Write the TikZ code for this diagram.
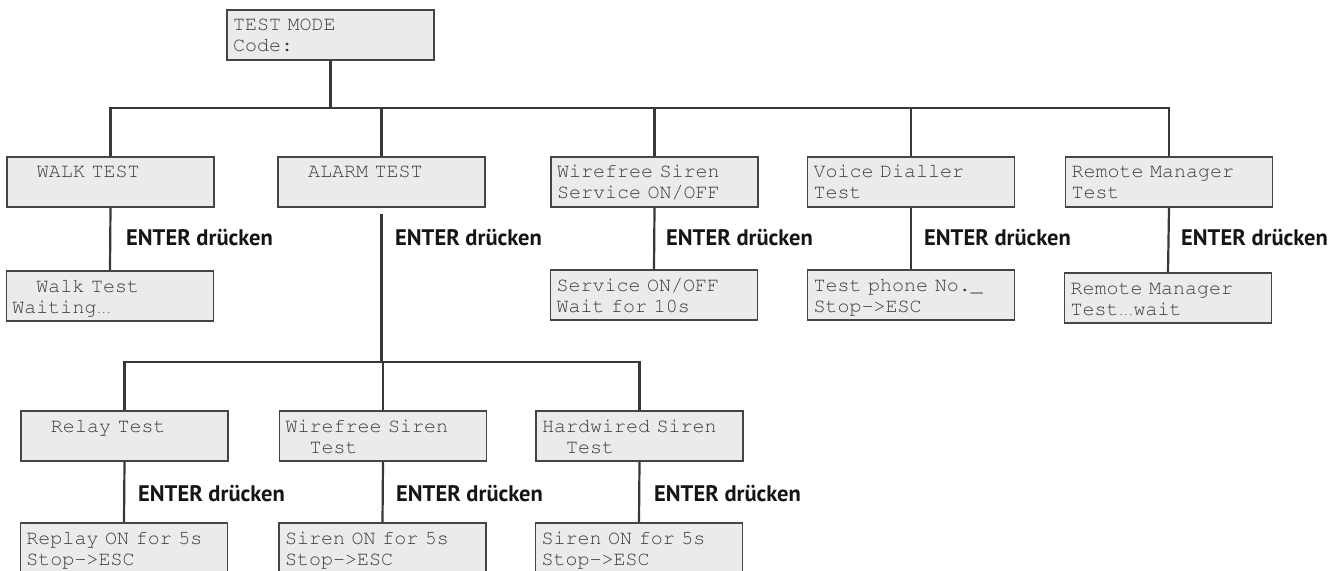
\documentclass[tikz,border=0pt]{standalone}
\usepackage[T1,TU]{fontenc}
\usepackage{fontspec}
\newcommand\lcdfont{\fontencoding{T1}\fontfamily{pcr}\selectfont}
\newfontfamily\enterfont{PT Sans}
\definecolor{boxfill}{HTML}{EBEBEB}
\definecolor{boxdraw}{HTML}{454545}
\definecolor{conncol}{HTML}{383838}
\definecolor{lcdtext}{HTML}{3C3C3C}
\definecolor{entertext}{HTML}{151515}
\newcommand\lcdlines[2]{\rule{0pt}{19.3bp}#1\strut\\#2\strut}
\newcommand\ind{\phantom{xx}}
\newcommand\lcdell{\makebox[15bp][l]{\fontsize{8.3bp}{8.3bp}\selectfont...}}
\tikzset{
  lcd/.style={draw=boxdraw, line width=1.6bp, fill=boxfill,
    minimum width=207bp, minimum height=50bp, text width=195bp,
    inner xsep=6bp, inner ysep=0pt, align=left,
    font=\lcdfont\fontsize{20bp}{21bp}\selectfont, text=lcdtext},
  enterlbl/.style={anchor=west, inner sep=0pt,
    font=\enterfont\bfseries\fontsize{22.5bp}{26bp}\selectfont, text=entertext},
  conn/.style={draw=conncol, line width=2.2bp},
}
\begin{document}
\begin{tikzpicture}[x=1bp, y=-1bp]
\useasboundingbox (0,0) rectangle (1343,571);
% level 0
\node[lcd] (top) at (330.5,35) {\lcdlines{TEST MODE}{Code:}};
% level 1
\node[lcd] (walk)   at (110.5,182) {\lcdlines{\ind WALK TEST}{}};
\node[lcd] (alarm)  at (381.5,182) {\lcdlines{\ind ALARM TEST}{}};
\node[lcd] (wss)    at (654.5,182) {\lcdlines{Wirefree Siren}{Service ON/OFF}};
\node[lcd] (voice)  at (911,182)   {\lcdlines{Voice Dialler}{Test}};
\node[lcd] (remote) at (1169,182)  {\lcdlines{Remote Manager}{Test}};
% level 1 results
\node[lcd] (walkL)   at (110,296)  {\lcdlines{\ind Walk Test}{Waiting\lcdell}};
\node[lcd] (wssL)    at (654,295)  {\lcdlines{Service ON/OFF}{Wait for 10s}};
\node[lcd] (voiceL)  at (911,295)  {\lcdlines{Test phone No.\_}{Stop->ESC}};
\node[lcd] (remoteL) at (1168,298) {\lcdlines{Remote Manager}{Test\lcdell wait}};
% level 2
\node[lcd] (relay) at (124.5,436) {\lcdlines{\ind Relay Test}{}};
\node[lcd] (wst)   at (383,436)   {\lcdlines{Wirefree Siren}{\ind Test}};
\node[lcd] (hws)   at (639.5,436) {\lcdlines{Hardwired Siren}{\ind Test}};
% level 2 results
\node[lcd] (relayL) at (124,548)   {\lcdlines{Replay ON for 5s}{Stop->ESC}};
\node[lcd] (wstL)   at (382.5,548) {\lcdlines{Siren ON for 5s}{Stop->ESC}};
\node[lcd] (hwsL)   at (639,548)   {\lcdlines{Siren ON for 5s}{Stop->ESC}};
% bus coordinates
\coordinate (bus1) at (0,108);
\coordinate (bus2) at (0,362);
% connectors level 0 -> 1
\draw[conn] (walk.north) |- (remote.north |- bus1) -- (remote.north);
\draw[conn] (top.south) -- (top.south |- bus1);
\draw[conn] (alarm.north) -- (alarm.north |- bus1);
\draw[conn] (wss.north) -- (wss.north |- bus1);
\draw[conn] (voice.north) -- (voice.north |- bus1);
% level 1 -> results
\draw[conn] (walk.south) -- (walkL.north);
\draw[conn] (wss.south) -- (wssL.north);
\draw[conn] (voice.south) -- (voiceL.north);
\draw[conn] (remote.south) -- (remoteL.north);
% alarm -> level 2
\draw[conn] ([yshift=-6bp]alarm.south) -- (alarm.south |- bus2);
\draw[conn] (relay.north) |- (hws.north |- bus2) -- (hws.north);
\draw[conn] (wst.north) -- (wst.north |- bus2);
% level 2 -> results
\draw[conn] (relay.south) -- (relayL.north);
\draw[conn] (wst.south) -- (wstL.north);
\draw[conn] (hws.south) -- (hwsL.north);
% labels
\node[enterlbl] (e1) at (126,238) {ENTER drücken};
\node[enterlbl] (e2) at (395,238) {ENTER drücken};
\node[enterlbl] (e3) at (666,238) {ENTER drücken};
\node[enterlbl] (e4) at (924,238) {ENTER drücken};
\node[enterlbl] (e5) at (1181,238) {ENTER drücken};
\node[enterlbl] (e6) at (138,494) {ENTER drücken};
\node[enterlbl] (e7) at (396,494) {ENTER drücken};
\node[enterlbl] (e8) at (654,494) {ENTER drücken};
\end{tikzpicture}
\end{document}
